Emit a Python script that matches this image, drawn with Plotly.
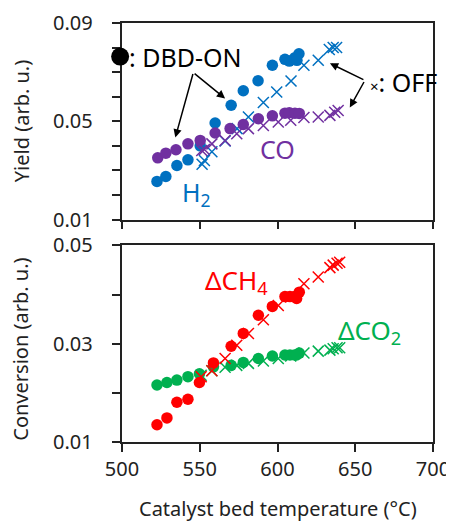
import plotly.graph_objects as go
from plotly.subplots import make_subplots

# ---------------- data ----------------
t_h2_on = [522.5, 528.2, 535.3, 542.4, 550.3, 559.9, 570.2, 578.0, 587.5, 596.7, 604.8, 607.6, 611.2, 613.8, 612.5]
y_h2_on = [0.0255, 0.0275, 0.0320, 0.0343, 0.0400, 0.0493, 0.0565, 0.0624, 0.0665, 0.0728, 0.0752, 0.0745, 0.0759, 0.0775, 0.0748]
t_h2_off = [551.5, 553.0, 557.8, 566.3, 574.0, 581.3, 590.9, 599.5, 608.7, 617.0, 626.2, 633.3, 635.8, 638.0]
y_h2_off = [0.0325, 0.0340, 0.0376, 0.0420, 0.0470, 0.0517, 0.0576, 0.0619, 0.0664, 0.0728, 0.0748, 0.0792, 0.0800, 0.0800]

t_co_on = [523.0, 528.2, 534.7, 542.4, 550.3, 559.9, 569.5, 578.0, 587.7, 596.7, 604.8, 607.6, 611.2, 614.0]
y_co_on = [0.0351, 0.0370, 0.0384, 0.0408, 0.0422, 0.0452, 0.0470, 0.0487, 0.0510, 0.0522, 0.0533, 0.0535, 0.0533, 0.0532]
t_co_off = [551.3, 553.0, 557.8, 566.3, 573.8, 581.3, 590.9, 600.5, 608.5, 617.0, 626.2, 633.7, 636.8, 639.0]
y_co_off = [0.0381, 0.0385, 0.0408, 0.0422, 0.0449, 0.0470, 0.0483, 0.0497, 0.0504, 0.0515, 0.0517, 0.0524, 0.0537, 0.0544]

t_ch4_on = [522.5, 528.9, 535.3, 542.4, 549.8, 558.8, 570.2, 578.0, 587.7, 596.7, 604.8, 608.0, 611.0, 614.0, 612.3]
y_ch4_on = [0.0135, 0.0149, 0.0181, 0.0187, 0.0221, 0.0261, 0.0295, 0.0321, 0.0358, 0.0376, 0.0396, 0.0396, 0.0396, 0.0405, 0.0392]
t_ch4_off = [550.9, 557.8, 566.3, 573.8, 581.3, 590.9, 600.5, 608.5, 617.0, 626.2, 633.7, 635.8, 638.3, 640.0]
y_ch4_off = [0.0233, 0.0245, 0.0270, 0.0297, 0.0321, 0.0349, 0.0378, 0.0395, 0.0422, 0.0436, 0.0455, 0.0460, 0.0464, 0.0466]

t_co2_on = [522.5, 528.9, 535.3, 542.4, 549.8, 558.8, 570.2, 578.0, 587.7, 596.7, 604.8, 608.0, 611.0, 614.0, 612.3]
y_co2_on = [0.0216, 0.0221, 0.0226, 0.0233, 0.0239, 0.0253, 0.0256, 0.0262, 0.0270, 0.0275, 0.0277, 0.0277, 0.0277, 0.0281, 0.0277]
t_co2_off = [550.9, 557.8, 566.3, 573.8, 581.3, 590.9, 600.5, 608.5, 617.0, 626.2, 633.7, 635.8, 638.3, 640.0]
y_co2_off = [0.0236, 0.0245, 0.0252, 0.0256, 0.0260, 0.0265, 0.0270, 0.0275, 0.0281, 0.0285, 0.0287, 0.0290, 0.0292, 0.0292]

x_ticks = [500, 550, 600, 650, 700]
y1_ticks = [0.01, 0.02, 0.03, 0.04, 0.05, 0.06, 0.07, 0.08, 0.09]
y1_labels = ["0.01", "", "", "", "0.05", "", "", "", "0.09"]
y2_ticks = [0.01, 0.02, 0.03, 0.04, 0.05]
y2_labels = ["0.01", "", "0.03", "", "0.05"]

BLUE = "#0070C0"
PURPLE = "#7030A0"
RED = "#FF0000"
GREEN = "#00B050"
FONT = "Noto Sans"
AX = "#222222"
PAD = "\u00a0\u00a0\u00a0"

fig = make_subplots(rows=2, cols=1, shared_xaxes=False, vertical_spacing=0.062)


def on_trace(x, y, c, row):
    fig.add_trace(go.Scatter(x=x, y=y, mode="markers",
                             marker=dict(symbol="circle", size=11.5, color=c, line=dict(width=0)),
                             showlegend=False, cliponaxis=False), row=row, col=1)


def off_trace(x, y, c, row):
    fig.add_trace(go.Scatter(x=x, y=y, mode="markers",
                             marker=dict(symbol="x-thin-open", size=11, color=c, line=dict(width=1.5, color=c)),
                             showlegend=False, cliponaxis=False), row=row, col=1)


off_trace(t_h2_off, y_h2_off, BLUE, 1)
on_trace(t_h2_on, y_h2_on, BLUE, 1)
off_trace(t_co_off, y_co_off, PURPLE, 1)
on_trace(t_co_on, y_co_on, PURPLE, 1)

off_trace(t_co2_off, y_co2_off, GREEN, 2)
on_trace(t_co2_on, y_co2_on, GREEN, 2)
off_trace(t_ch4_off, y_ch4_off, RED, 2)
on_trace(t_ch4_on, y_ch4_on, RED, 2)

axis_common = dict(showline=True, linecolor=AX, linewidth=1.5, mirror=True,
                   ticks="outside", ticklen=8, tickwidth=1.5, tickcolor=AX,
                   showgrid=False, zeroline=False, automargin=False,
                   tickfont=dict(family=FONT, size=20, color=AX))

fig.update_xaxes(range=[500, 700], tickvals=x_ticks, **axis_common)
fig.update_xaxes(showticklabels=False, row=1, col=1)
fig.update_yaxes(**axis_common)
fig.update_yaxes(range=[0.01, 0.09], tickvals=y1_ticks,
                 ticktext=[s + PAD if s else s for s in y1_labels], row=1, col=1)
fig.update_yaxes(range=[0.01, 0.05], tickvals=y2_ticks,
                 ticktext=[s + PAD if s else s for s in y2_labels], row=2, col=1)

ann = []
# axis titles
ann.append(dict(text="Yield (arb. u.)", xref="x domain", yref="y domain", x=0, y=0.5,
                xanchor="center", yanchor="middle",
                xshift=-101, textangle=-90, showarrow=False,
                font=dict(family=FONT, size=20, color=AX)))
ann.append(dict(text="Conversion (arb. u.)", xref="x2 domain", yref="y2 domain", x=0, y=0.5,
                xanchor="center", yanchor="middle",
                xshift=-101, yshift=-6, textangle=-90, showarrow=False,
                font=dict(family=FONT, size=20, color=AX)))
ann.append(dict(text="Catalyst bed temperature (°C)", xref="x2 domain", yref="y2 domain", x=0.5, y=0,
                xanchor="center", yanchor="middle",
                yshift=-66, showarrow=False, font=dict(family=FONT, size=20, color=AX)))

# series labels
ann.append(dict(text="CO", x=599.8, y=0.0389, xref="x", yref="y", showarrow=False,
                font=dict(family=FONT, size=25, color=PURPLE)))
ann.append(dict(text="H<sub>2</sub>", x=547.7, y=0.0207, xref="x", yref="y", showarrow=False,
                font=dict(family=FONT, size=25, color=BLUE)))
ann.append(dict(text="ΔCH<sub>4</sub>", x=573.4, y=0.0428, xref="x2", yref="y2", showarrow=False,
                font=dict(family=FONT, size=26, color=RED)))
ann.append(dict(text="ΔCO<sub>2</sub>", x=659.4, y=0.0326, xref="x2", yref="y2", showarrow=False,
                font=dict(family=FONT, size=26, color=GREEN)))

# DBD-ON / OFF keys
ann.append(dict(text=": DBD-ON", x=503, y=0.0760, xref="x", yref="y", xanchor="left", showarrow=False,
                font=dict(family=FONT, size=25, color="black")))
ann.append(dict(text="<span style='font-size:15px'>×</span>: OFF", x=658.0, y=0.0660, xref="x", yref="y",
                xanchor="left", showarrow=False, font=dict(family=FONT, size=25, color="black")))

arrow = dict(showarrow=True, arrowhead=2, arrowsize=1.1, arrowwidth=1.5, arrowcolor="black",
             text="", xref="x", yref="y", axref="pixel", ayref="pixel")
ann.append(dict(x=534.3, y=0.0434, ax=18, ay=-65, **arrow))
ann.append(dict(x=566.3, y=0.0593, ax=-32, ay=-26, **arrow))
ann.append(dict(x=633.7, y=0.0736, ax=35, ay=17, **arrow))
ann.append(dict(x=646.5, y=0.0556, ax=15, ay=-27, **arrow))

fig.update_layout(annotations=ann)

fig.add_shape(type="circle", xref="paper", yref="paper", xsizemode="pixel", ysizemode="pixel",
              xanchor=-0.006, yanchor=0.92, x0=-9, x1=9, y0=-9, y1=9,
              fillcolor="black", line=dict(width=0))

fig.update_layout(width=454, height=522,
                  margin=dict(l=114, r=29, t=15, b=88),
                  paper_bgcolor="white", plot_bgcolor="white",
                  font=dict(family=FONT, size=20, color=AX))

fig.write_html("out.html")
